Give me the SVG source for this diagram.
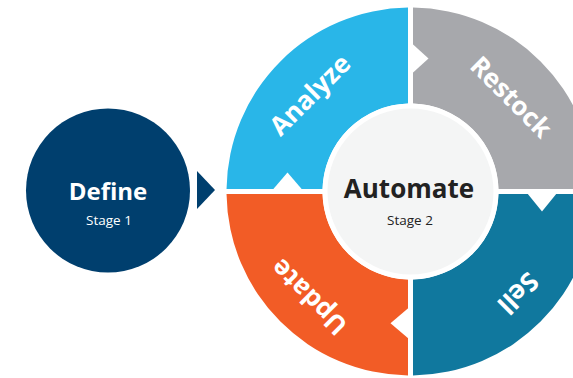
<svg xmlns="http://www.w3.org/2000/svg" width="573" height="378" viewBox="0 0 573 378">
<style>
.seg-label{font-family:"Open Sans","Liberation Sans",sans-serif;font-weight:700;font-size:26px;fill:#ffffff;text-anchor:middle}
.title{font-family:"Open Sans","Liberation Sans",sans-serif;font-weight:700;text-anchor:middle}
.sub{font-family:"Open Sans","Liberation Sans",sans-serif;font-weight:400;font-size:13.5px;text-anchor:middle}
.notch{fill:#ffffff}
</style>
<rect width="573" height="378" fill="#ffffff"/>
<g id="define">
<circle cx="108" cy="190.5" r="82" fill="#003f6e"/>
<text class="title" x="108" y="200" font-size="24" fill="#ffffff">Define</text>
<text class="sub" x="109" y="225" fill="#ffffff">Stage 1</text>
</g>
<g id="connectors">
<polygon points="197,171 215,190 197,209" fill="#003f6e"/>
</g>
<g id="analyze">
<path d="M408,7.52 A184,184 0 0 0 226.52,189 L322.54,189 A88,88 0 0 1 408,103.54 Z" fill="#29b6e8"/>
<polygon class="notch" points="272.5,190 302.5,190 287.5,172.5"/>
<g transform="translate(310,95) rotate(-45)"><text class="seg-label" x="0" y="9">Analyze</text></g>
</g>
<g id="restock">
<path d="M413,7.52 A184,184 0 0 1 594.48,189 L498.46,189 A88,88 0 0 0 413,103.54 Z" fill="#a7a8ac"/>
<polygon class="notch" points="412,43.5 412,73.5 428.5,58.5"/>
<g transform="translate(511,97) rotate(45)"><text class="seg-label" x="0" y="9">Restock</text></g>
</g>
<g id="sell">
<path d="M594.48,194 A184,184 0 0 1 413,375.48 L413,279.46 A88,88 0 0 0 498.46,194 Z" fill="#10789e"/>
<polygon class="notch" points="527,193 557,193 542,211.5"/>
<g transform="translate(518,293) rotate(135)"><text class="seg-label" x="0" y="9">Sell</text></g>
</g>
<g id="update">
<path d="M408,375.48 A184,184 0 0 1 226.52,194 L322.54,194 A88,88 0 0 0 408,279.46 Z" fill="#f25c26"/>
<polygon class="notch" points="409,307.5 409,339 390.5,323.3"/>
<g transform="translate(309,297) rotate(-135)"><text class="seg-label" x="0" y="9">Update</text></g>
</g>
<g id="automate">
<circle cx="410.5" cy="191.5" r="85.5" fill="#f4f5f5" stroke="#ffffff" stroke-width="5"/>
<text class="title" x="409" y="198" font-size="26" fill="#222222">Automate</text>
<text class="sub" x="410" y="225" fill="#222222">Stage 2</text>
</g>
</svg>
